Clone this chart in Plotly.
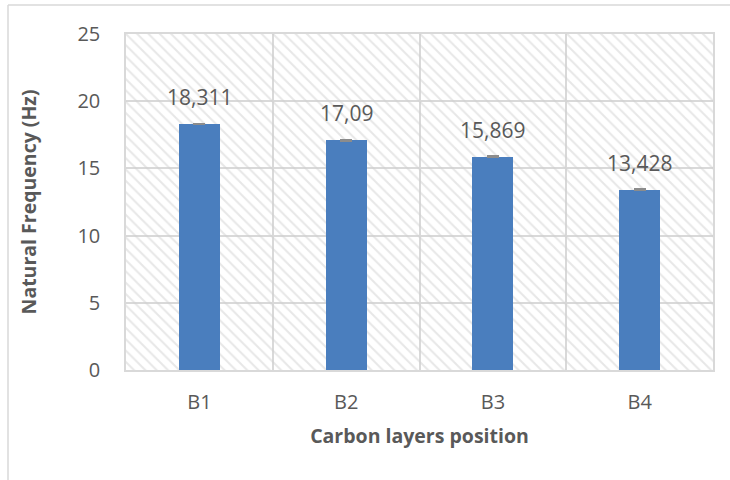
import plotly.graph_objects as go

# Natural frequency for each carbon-layer position
positions = ["B1", "B2", "B3", "B4"]
frequency_hz = [18.311, 17.09, 15.869, 13.428]
freq_error = [0.04, 0.04, 0.04, 0.04]
y_ticks = [0, 5, 10, 15, 20, 25]

W, H = 730, 480
L, R, T, B = 126, 17, 34, 110
plot_w = W - L - R
plot_h = H - T - B

GRID = "#d9d9d9"
TEXT = "#595959"
FONT = "Open Sans"

x_idx = list(range(len(positions)))

fig = go.Figure()

# hatched plot-area backdrop (transparent fill, grey diagonal stripes)
fig.add_trace(go.Bar(
    x=[(len(positions) - 1) / 2], y=[max(y_ticks)], width=[len(positions)],
    marker=dict(color="rgba(0,0,0,0)", line=dict(width=0),
                pattern=dict(shape="\\", fgcolor="#d0d0d0", bgcolor="rgba(0,0,0,0)",
                             size=8, solidity=0.25)),
    hoverinfo="skip", showlegend=False,
))

fig.add_trace(go.Bar(
    x=x_idx, y=frequency_hz, width=0.28,
    marker=dict(color="#4A7EBE", line=dict(width=0)),
    error_y=dict(type="data", array=freq_error, visible=True,
                 color="#8c8c8c", thickness=1.5, width=6),
    showlegend=False,
))

# value labels with decimal comma
for xi, v in zip(x_idx, frequency_hz):
    fig.add_annotation(
        x=xi, y=v, text=f"{v:g}".replace(".", ","), showarrow=False,
        yanchor="middle", yshift=27,
        font=dict(family=FONT, size=21, color=TEXT),
    )

# outer chart frame (left and top edges)
fig.add_shape(type="line", xref="paper", yref="paper",
              x0=(8 - L) / plot_w, x1=(W + 5 - L) / plot_w,
              y0=(H - 5 - B) / plot_h, y1=(H - 5 - B) / plot_h,
              line=dict(color=GRID, width=1.5))
fig.add_shape(type="line", xref="paper", yref="paper",
              x0=(8 - L) / plot_w, x1=(8 - L) / plot_w,
              y0=(H - 5 - B) / plot_h, y1=-(B + 5) / plot_h,
              line=dict(color=GRID, width=1.5))

fig.update_layout(
    width=W, height=H,
    margin=dict(l=L, r=R, t=T, b=B, autoexpand=False),
    paper_bgcolor="white", plot_bgcolor="white",
    barmode="overlay", bargap=0,
    separators=",.",
    font=dict(family=FONT, color=TEXT),
)

fig.update_xaxes(
    range=[-0.5, len(positions) - 0.5],
    tickvals=x_idx, ticktext=positions,
    tickfont=dict(family=FONT, size=20, color=TEXT),
    ticks="outside", ticklen=13, tickcolor="rgba(0,0,0,0)",
    showgrid=False, zeroline=False,
    showline=True, linecolor=GRID, linewidth=1.5, mirror=True,
    minor=dict(tickvals=[i - 0.5 for i in range(len(positions) + 1)],
               showgrid=True, gridcolor=GRID, gridwidth=1.5, ticks=""),
    title=dict(text="<b>Carbon layers position</b>",
               font=dict(family=FONT, size=19.5, color=TEXT), standoff=16),
)

fig.update_yaxes(
    range=[0, max(y_ticks)], tickvals=y_ticks,
    tickfont=dict(family=FONT, size=20, color=TEXT),
    ticks="outside", ticklen=20, tickcolor="rgba(0,0,0,0)",
    showgrid=True, gridcolor=GRID, gridwidth=1.5, zeroline=False,
    showline=True, linecolor=GRID, linewidth=1.5, mirror=True,
    title=dict(text="<b>Natural Frequency (Hz)</b>",
               font=dict(family=FONT, size=19.5, color=TEXT), standoff=36),
)

fig.write_html("out.html")
